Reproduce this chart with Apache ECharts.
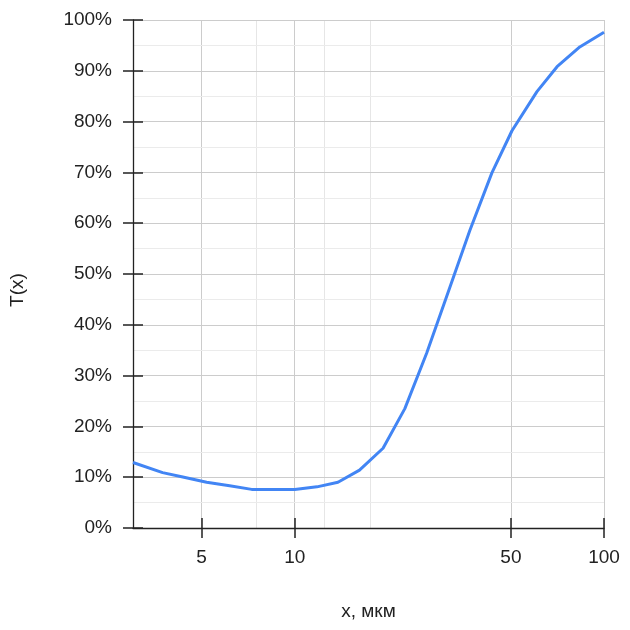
<!DOCTYPE html>
<html>
<head>
<meta charset="utf-8">
<script src="https://cdn.jsdelivr.net/npm/echarts@6/dist/echarts.min.js"></script>
<style>html,body{margin:0;padding:0;background:#fff;}#c{width:630px;height:630px;}</style>
</head>
<body>
<div id="c"></div>
<script>
// x, мкм
const xValues = [3, 3.74, 4.31, 5.19, 6.16, 7.26, 8.5, 10, 11.8, 13.8, 16.2, 19.3, 22.7, 26.7, 31.5, 36.8, 43.4, 50.4, 60.7, 70.5, 83.5, 100];
// T(x), %
const tValues = [12.9, 10.9, 10.1, 9.0, 8.3, 7.6, 7.6, 7.6, 8.1, 9.0, 11.4, 15.7, 23.5, 34.4, 46.8, 58.5, 69.9, 78.2, 85.9, 90.8, 94.7, 97.6];
const xTicks = [5, 10, 50, 100];
const xMajorGrid = [5, 10, 50, 100];
const xMinorGrid = [7.5, 12.5, 17.5];
const xName = 'x, мкм';
const yName = 'T(x)';

const pairs = xValues.map((x, i) => [x, tValues[i]]);
const font = 'Liberation Sans, Arial, sans-serif';
const axisColor = '#222';
const tickW = 1.5;
const G = {left: 133, right: 26, top: 20, bottom: 102};
const plotW = 630 - G.left - G.right;
const plotH = 630 - G.top - G.bottom;

const chart = echarts.init(document.getElementById('c'), null, {renderer: 'canvas'});
chart.setOption({
  animation: false,
  backgroundColor: '#fff',
  grid: {left: G.left, right: G.right, top: G.top, bottom: G.bottom, containLabel: false},
  xAxis: [{
    type: 'log', logBase: 10, min: 3, max: 100, position: 'bottom', offset: 0, z: 2,
    name: xName, nameLocation: 'middle', nameGap: 74,
    nameTextStyle: {fontFamily: font, fontSize: 19, color: '#222'},
    axisLine: {show: true, lineStyle: {color: axisColor, width: 1.3}},
    axisTick: {show: true, inside: false, length: 10, customValues: xTicks, lineStyle: {color: axisColor, width: tickW}},
    axisLabel: {show: true, margin: 20, customValues: xTicks, fontFamily: font, fontSize: 19, color: '#222'},
    splitLine: {show: false}, minorSplitLine: {show: false}
  }, {
    // same scale on the opposite side, moved onto the bottom edge: its ticks point into the plot
    type: 'log', logBase: 10, min: 3, max: 100, position: 'top', offset: -plotH, z: 2,
    axisLine: {show: false},
    axisTick: {show: true, inside: false, length: 10, customValues: xTicks, lineStyle: {color: axisColor, width: tickW}},
    axisLabel: {show: false},
    splitLine: {show: false}
  }],
  yAxis: [{
    type: 'value', min: 0, max: 100, interval: 10, position: 'left', offset: 0, z: 2,
    axisLine: {show: true, lineStyle: {color: axisColor, width: 1.3}},
    axisTick: {show: true, inside: false, length: 10, lineStyle: {color: axisColor, width: tickW}},
    axisLabel: {margin: 21, formatter: '{value}%', fontFamily: font, fontSize: 19, color: '#222'},
    splitLine: {show: true, lineStyle: {color: '#cccccc', width: 1}},
    minorTick: {show: false, splitNumber: 2},
    minorSplitLine: {show: true, lineStyle: {color: '#ebebeb', width: 1}}
  }, {
    type: 'value', min: 0, max: 100, interval: 10, position: 'right', offset: -plotW, z: 2,
    axisLine: {show: false},
    axisTick: {show: true, inside: false, length: 10, lineStyle: {color: axisColor, width: tickW}},
    axisLabel: {show: false},
    splitLine: {show: false}
  }],
  graphic: [{
    type: 'text', x: 18, y: 290, rotation: Math.PI / 2,
    style: {text: yName, fontFamily: font, fontSize: 19, fill: '#222', align: 'center', verticalAlign: 'middle'}
  }],
  series: [{
    type: 'line', name: 'grid', data: pairs, z: 0, silent: true,
    showSymbol: false, lineStyle: {opacity: 0},
    markLine: {
      silent: true, symbol: 'none', animation: false, label: {show: false}, z: 0,
      data: xMajorGrid.map(v => ({xAxis: v, lineStyle: {color: '#cccccc', width: 1, type: 'solid'}}))
        .concat(xMinorGrid.map(v => ({xAxis: v, lineStyle: {color: '#e6e6e6', width: 1, type: 'solid'}})))
    }
  }, {
    type: 'line', name: 'T(x)', data: pairs, z: 3,
    showSymbol: false, smooth: false,
    lineStyle: {color: '#4285f4', width: 3},
    itemStyle: {color: '#4285f4'}
  }]
});
</script>
</body>
</html>
